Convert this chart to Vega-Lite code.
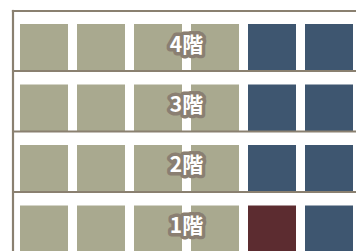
{
  "$schema": "https://vega.github.io/schema/vega-lite/v6.json",
  "width": 343,
  "height": 240,
  "autosize": {"type": "none"},
  "padding": {"left": 13, "top": 11, "right": 0, "bottom": 0},
  "background": "#ffffff",
  "config": {"view": {"stroke": null}},
  "datasets": {
    "rooms": [
      {"floor": 4, "room": 1, "status": "vacant"},
      {"floor": 4, "room": 2, "status": "vacant"},
      {"floor": 4, "room": 3, "status": "vacant"},
      {"floor": 4, "room": 4, "status": "vacant"},
      {"floor": 4, "room": 5, "status": "occupied"},
      {"floor": 4, "room": 6, "status": "occupied"},
      {"floor": 3, "room": 1, "status": "vacant"},
      {"floor": 3, "room": 2, "status": "vacant"},
      {"floor": 3, "room": 3, "status": "vacant"},
      {"floor": 3, "room": 4, "status": "vacant"},
      {"floor": 3, "room": 5, "status": "occupied"},
      {"floor": 3, "room": 6, "status": "occupied"},
      {"floor": 2, "room": 1, "status": "vacant"},
      {"floor": 2, "room": 2, "status": "vacant"},
      {"floor": 2, "room": 3, "status": "vacant"},
      {"floor": 2, "room": 4, "status": "vacant"},
      {"floor": 2, "room": 5, "status": "occupied"},
      {"floor": 2, "room": 6, "status": "occupied"},
      {"floor": 1, "room": 1, "status": "vacant"},
      {"floor": 1, "room": 2, "status": "vacant"},
      {"floor": 1, "room": 3, "status": "vacant"},
      {"floor": 1, "room": 4, "status": "vacant"},
      {"floor": 1, "room": 5, "status": "selected"},
      {"floor": 1, "room": 6, "status": "occupied"}
    ],
    "floors": [
      {"floor": 4, "label": "4階"},
      {"floor": 3, "label": "3階"},
      {"floor": 2, "label": "2階"},
      {"floor": 1, "label": "1階"}
    ],
    "walls": [{"pos": 0}]
  },
  "resolve": {"scale": {"x": "independent", "y": "independent"}},
  "layer": [
    {
      "data": {"name": "walls"},
      "layer": [
        {
          "mark": {"type": "rule", "color": "#8a8070", "strokeWidth": 2.2, "strokeCap": "square"},
          "encoding": {
            "x": {"field": "pos", "type": "quantitative", "scale": {"domain": [0, 1]}, "axis": null}
          }
        },
        {
          "mark": {"type": "rule", "color": "#8a8070", "strokeWidth": 2.2, "strokeCap": "square"},
          "encoding": {
            "y": {"field": "pos", "type": "quantitative", "scale": {"domain": [0, 1], "reverse": true}, "axis": null}
          }
        }
      ],
      "resolve": {"scale": {"x": "independent", "y": "independent"}}
    },
    {
      "layer": [
        {
          "data": {"name": "rooms"},
          "mark": {"type": "rect"},
          "encoding": {
            "x": {"field": "room", "type": "ordinal", "axis": null,
                  "scale": {"type": "band", "domain": [1, 2, 3, 4, 5, 6], "range": [7, 340], "paddingInner": 0.158, "paddingOuter": 0}},
            "y": {"field": "floor", "type": "ordinal", "axis": null,
                  "scale": {"type": "band", "domain": [4, 3, 2, 1], "range": [13, 241.5], "paddingInner": 0.2231, "paddingOuter": 0}},
            "color": {"field": "status", "type": "nominal", "legend": null,
                      "scale": {"domain": ["vacant", "occupied", "selected"], "range": ["#a9a98f", "#3e5670", "#5c2c30"]}}
          }
        },
        {
          "data": {"name": "floors"},
          "transform": [{"filter": "datum.floor > 1"}],
          "mark": {"type": "rule", "color": "#8a8070", "strokeWidth": 2.2},
          "encoding": {
            "y": {"field": "floor", "type": "ordinal", "bandPosition": 1, "axis": null}
          }
        },
        {
          "data": {"name": "floors"},
          "mark": {"type": "text", "font": "Noto Sans CJK JP", "fontSize": 21, "fontWeight": "bold",
                   "color": "#8a7f72", "stroke": "#8a7f72", "strokeWidth": 7, "strokeJoin": "round",
                   "align": "center", "baseline": "middle", "dx": 2, "dy": -2},
          "encoding": {
            "y": {"field": "floor", "type": "ordinal", "axis": null},
            "text": {"field": "label"}
          }
        },
        {
          "data": {"name": "floors"},
          "mark": {"type": "text", "font": "Noto Sans CJK JP", "fontSize": 21, "fontWeight": "bold",
                   "color": "#ffffff", "align": "center", "baseline": "middle", "dx": 2, "dy": -2},
          "encoding": {
            "y": {"field": "floor", "type": "ordinal", "axis": null},
            "text": {"field": "label"}
          }
        }
      ]
    }
  ]
}
